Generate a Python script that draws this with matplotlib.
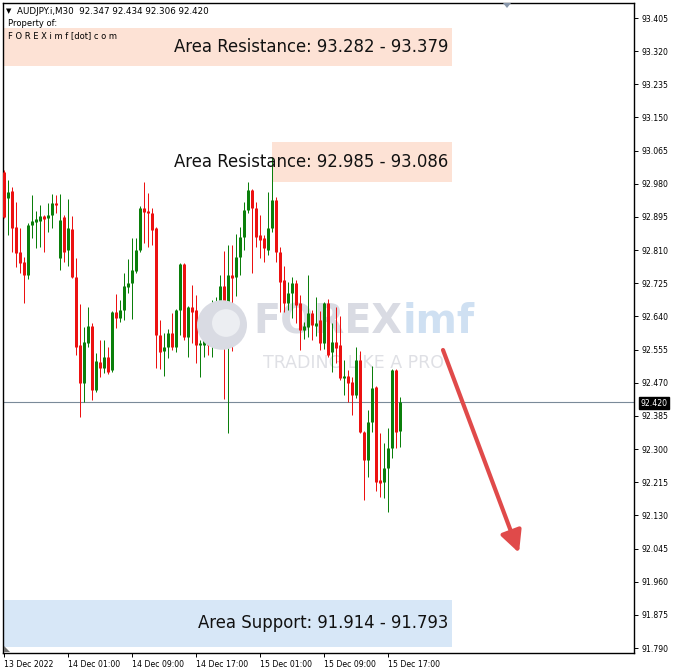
import matplotlib
matplotlib.use("Agg")
import matplotlib.pyplot as plt
from matplotlib.patches import Rectangle, Circle, Polygon

# ---------------- data (AUDJPY M30 candles) ----------------
opens = [93.010, 92.944, 92.962, 92.869, 92.805, 92.780, 92.746, 92.874, 92.882, 92.885,
         92.897, 92.892, 92.900, 92.931, 92.790, 92.895, 92.810, 92.864, 92.741, 92.567,
         92.469, 92.572, 92.616, 92.451, 92.523, 92.508, 92.536, 92.503, 92.651, 92.636,
         92.657, 92.716, 92.726, 92.756, 92.810, 92.918, 92.910, 92.905, 92.867, 92.592,
         92.551, 92.562, 92.598, 92.562, 92.657, 92.774, 92.587, 92.664, 92.657, 92.567,
         92.567, 92.582, 92.567, 92.613, 92.674, 92.718, 92.595, 92.746, 92.741, 92.792,
         92.844, 92.913, 92.964, 92.918, 92.849, 92.841, 92.810, 92.867, 92.938, 92.805,
         92.733, 92.674, 92.700, 92.726, 92.674, 92.605, 92.613, 92.649, 92.616, 92.631,
         92.572, 92.674, 92.549, 92.574, 92.567, 92.482, 92.487, 92.472, 92.439, 92.528,
         92.344, 92.272, 92.369, 92.459, 92.221, 92.216, 92.252, 92.303, 92.503, 92.347]
highs = [93.015, 92.990, 92.972, 92.933, 92.867, 92.792, 92.880, 92.951, 92.910, 92.926,
         92.899, 92.931, 92.954, 92.951, 92.954, 92.900, 92.941, 92.897, 92.790, 92.672,
         92.613, 92.664, 92.623, 92.546, 92.580, 92.580, 92.562, 92.653, 92.698, 92.682,
         92.751, 92.787, 92.841, 92.841, 92.923, 92.985, 92.956, 92.918, 92.869, 92.631,
         92.598, 92.608, 92.649, 92.659, 92.776, 92.776, 92.666, 92.721, 92.695, 92.580,
         92.605, 92.613, 92.682, 92.690, 92.746, 92.808, 92.823, 92.823, 92.851, 92.869,
         92.933, 92.985, 92.967, 92.933, 92.900, 92.849, 92.959, 93.049, 92.946, 92.818,
         92.769, 92.728, 92.741, 92.733, 92.695, 92.626, 92.746, 92.657, 92.690, 92.654,
         92.677, 92.685, 92.623, 92.664, 92.641, 92.528, 92.503, 92.485, 92.562, 92.551,
         92.346, 92.400, 92.513, 92.461, 92.341, 92.316, 92.354, 92.505, 92.505, 92.434]
lows = [92.892, 92.849, 92.805, 92.767, 92.751, 92.674, 92.736, 92.841, 92.815, 92.818,
        92.805, 92.856, 92.867, 92.905, 92.759, 92.780, 92.769, 92.739, 92.541, 92.382,
        92.421, 92.562, 92.426, 92.446, 92.485, 92.495, 92.492, 92.498, 92.610, 92.626,
        92.631, 92.700, 92.633, 92.751, 92.805, 92.828, 92.818, 92.823, 92.508, 92.505,
        92.487, 92.533, 92.554, 92.549, 92.592, 92.580, 92.536, 92.572, 92.521, 92.485,
        92.536, 92.541, 92.536, 92.574, 92.598, 92.428, 92.341, 92.551, 92.692, 92.746,
        92.810, 92.905, 92.751, 92.818, 92.790, 92.780, 92.798, 92.856, 92.780, 92.651,
        92.651, 92.657, 92.636, 92.623, 92.554, 92.582, 92.587, 92.580, 92.590, 92.554,
        92.557, 92.536, 92.498, 92.521, 92.477, 92.439, 92.421, 92.387, 92.431, 92.342,
        92.170, 92.228, 92.344, 92.193, 92.177, 92.175, 92.139, 92.277, 92.303, 92.306]
closes = [92.895, 92.959, 92.867, 92.803, 92.777, 92.746, 92.874, 92.885, 92.890, 92.897,
          92.890, 92.900, 92.931, 92.926, 92.887, 92.805, 92.867, 92.741, 92.562, 92.469,
          92.574, 92.616, 92.451, 92.526, 92.508, 92.536, 92.498, 92.651, 92.636, 92.657,
          92.718, 92.726, 92.759, 92.810, 92.918, 92.908, 92.905, 92.862, 92.592, 92.549,
          92.562, 92.598, 92.562, 92.657, 92.774, 92.587, 92.664, 92.651, 92.567, 92.572,
          92.582, 92.567, 92.613, 92.674, 92.718, 92.595, 92.746, 92.739, 92.792, 92.844,
          92.913, 92.964, 92.918, 92.844, 92.836, 92.815, 92.867, 92.938, 92.805, 92.728,
          92.674, 92.700, 92.726, 92.669, 92.605, 92.616, 92.649, 92.618, 92.623, 92.572,
          92.674, 92.541, 92.574, 92.559, 92.482, 92.487, 92.469, 92.439, 92.528, 92.344,
          92.272, 92.369, 92.457, 92.216, 92.213, 92.252, 92.303, 92.503, 92.344, 92.420]

y_tick_labels = ["93.405", "93.320", "93.235", "93.150", "93.065", "92.980", "92.895",
                 "92.810", "92.725", "92.640", "92.555", "92.470", "92.385", "92.300",
                 "92.215", "92.130", "92.045", "91.960", "91.875", "91.790"]
x_tick_bars = [0, 16, 32, 48, 64, 80, 96]
x_tick_labels = ["13 Dec 2022", "14 Dec 01:00", "14 Dec 09:00", "14 Dec 17:00",
                 "15 Dec 01:00", "15 Dec 09:00", "15 Dec 17:00"]

last_price = 92.420
res1 = (93.282, 93.379)
res2 = (92.985, 93.086)
sup = (91.793, 91.914)
arrow_from = (109.75, 92.554)
arrow_to = (128.75, 92.034)

header = "AUDJPY.i,M30  92.347 92.434 92.306 92.420"

# ---------------- figure ----------------
W, H = 677, 671
fig = plt.figure(figsize=(W / 100, H / 100), dpi=100)
fig.patch.set_facecolor("white")
ax = fig.add_axes([3 / W, 18 / H, 631 / W, 650 / H])
ax.set_xlim(-0.25, 157.5)
ax.set_ylim(91.7773, 93.4435)

GREEN = "#0b7f0b"
RED = "#ec1111"
PX = 0.72  # one pixel in points

# area boxes
ax.add_patch(Rectangle((-0.25, res1[0]), 112.25, res1[1] - res1[0],
                       facecolor="#fde2d5", edgecolor="none", zorder=1))
ax.add_patch(Rectangle((67.0, res2[0]), 45.0, res2[1] - res2[0],
                       facecolor="#fde2d5", edgecolor="none", zorder=1))
ax.add_patch(Rectangle((-0.25, sup[0]), 112.25, sup[1] - sup[0],
                       facecolor="#d7e7f7", edgecolor="none", zorder=1))

# watermark
fig.patches.append(Circle((222 / W, 1 - 325 / H), 25 / W, transform=fig.transFigure,
                          facecolor="#d9dbe3", edgecolor="none", zorder=1.2))
fig.patches.append(Circle((226 / W, 1 - 323 / H), 14 / W, transform=fig.transFigure,
                          facecolor="#eceef2", edgecolor="none", zorder=1.3))
wm_y = 92.625
t1 = ax.text(250 / 631 * 157.75 - 0.25, wm_y, "FOREX", fontsize=28.5, fontweight="bold",
             color="#d9dbe3", va="center", ha="left", zorder=1.5)
fig.canvas.draw()
bb = t1.get_window_extent(renderer=fig.canvas.get_renderer())
x_after = ax.transData.inverted().transform((bb.x1 + 1, 0))[0]
ax.text(x_after, wm_y, "imf", fontsize=28.5, fontweight="bold",
        color="#cfe0f2", va="center", ha="left", zorder=1.5)
ax.text(260 / 631 * 157.75 - 0.25, 92.520, "TRADING LIKE A PRO", fontsize=12.5,
        color="#dfe0e5", va="center", ha="left", zorder=1.5)

# current price line
ax.axhline(last_price, color="#7a8a99", lw=0.8, zorder=2)

# candles
for i, (o, h, l, c) in enumerate(zip(opens, highs, lows, closes)):
    col = GREEN if c >= o else RED
    ax.vlines(i, l, h, color=col, lw=1 * PX, zorder=3)
    lo, hi = min(o, c), max(o, c)
    if hi - lo < 0.0026:
        mid = (hi + lo) / 2
        lo, hi = mid - 0.0013, mid + 0.0013
    ax.vlines(i, lo, hi, color=col, lw=3 * PX, zorder=3, capstyle="butt")

# area labels
for box, txt in [(res1, "Area Resistance: 93.282 - 93.379"),
                 (res2, "Area Resistance: 92.985 - 93.086"),
                 (sup, "Area Support: 91.914 - 91.793")]:
    ax.text(111, sum(box) / 2, txt, fontsize=11.9, ha="right", va="center",
            color="#111111", zorder=4)

# arrow
ax.annotate("", xy=arrow_to, xytext=arrow_from,
            arrowprops=dict(arrowstyle="-|>,head_length=1.0,head_width=0.5",
                            color="#e04a4a", lw=3.0, shrinkA=0, shrinkB=0,
                            mutation_scale=13), zorder=5)

# axes styling
for s in ax.spines.values():
    s.set_color("black")
    s.set_linewidth(1.0)
ax.yaxis.tick_right()
ax.set_yticks([float(t) for t in y_tick_labels])
ax.set_yticklabels(y_tick_labels, fontsize=5.6)
ax.tick_params(axis="y", direction="out", length=3, width=0.7, pad=2.5, colors="black")
ax.set_xticks(x_tick_bars)
ax.set_xticklabels(x_tick_labels, fontsize=5.6, ha="left")
ax.tick_params(axis="x", direction="out", length=3, width=0.7, pad=2, colors="black")

# current price tag
fig.text(654 / W, 1 - 403 / H, "92.420", fontsize=5.6, color="white", ha="center",
         va="center", bbox=dict(boxstyle="square,pad=0.25", facecolor="black",
                                edgecolor="black"))

# header texts
fig.text(6 / W, 1 - 11 / H, "\u25bc", fontsize=5, color="black", va="center")
fig.text(17 / W, 1 - 11 / H, header, fontsize=6.3, color="black", va="center")
fig.text(8 / W, 1 - 24 / H, "Property of:", fontsize=6, color="black", va="center")
fig.text(8 / W, 1 - 36 / H, "F O R E X i m f [dot] c o m", fontsize=6, color="black",
         va="center")

# small markers
fig.patches.append(Polygon([(503 / W, 1 - 3 / H), (511 / W, 1 - 3 / H), (507 / W, 1 - 8 / H)],
                           closed=True, transform=fig.transFigure,
                           facecolor="#8796aa", edgecolor="none"))
fig.patches.append(Polygon([(4 / W, 1 - 646 / H), (4 / W, 1 - 652 / H), (10 / W, 1 - 652 / H)],
                           closed=True, transform=fig.transFigure,
                           facecolor="#707070", edgecolor="none"))

fig.savefig("out.png", dpi=100, facecolor="white")
